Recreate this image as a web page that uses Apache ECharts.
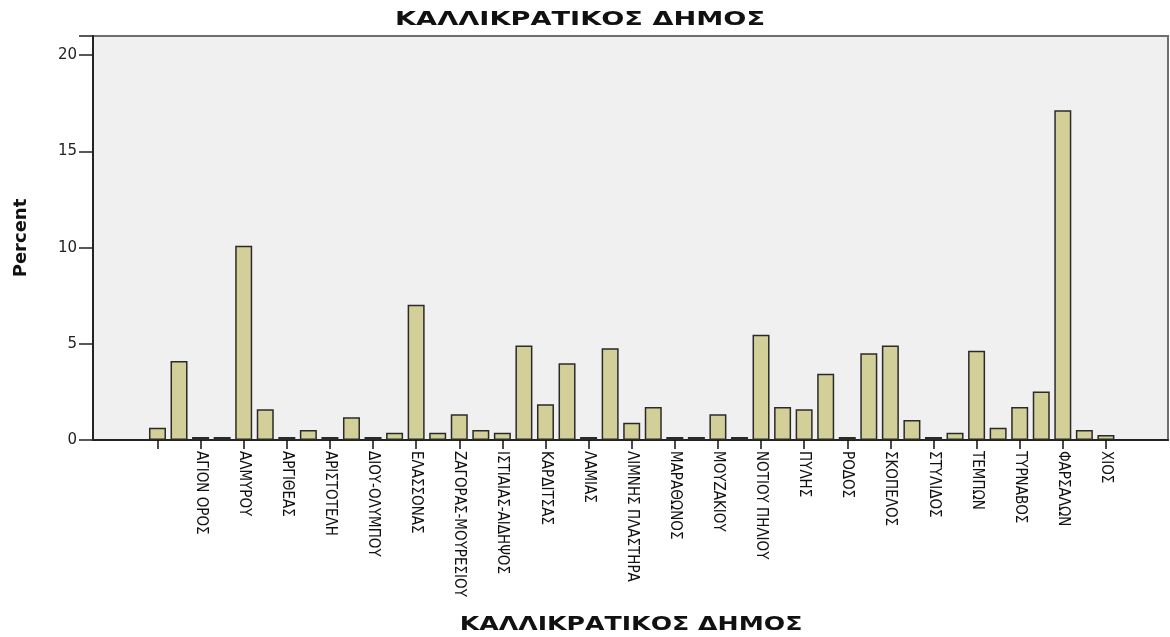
<!DOCTYPE html>
<html lang="el">
<head>
    <meta charset="UTF-8">
    <title>ΚΑΛΛΙΚΡΑΤΙΚΟΣ ΔΗΜΟΣ</title>
    <script src="https://cdn.jsdelivr.net/npm/echarts@6/dist/echarts.min.js"></script>
    <style>
        html, body { margin: 0; padding: 0; background: #fff; }
        #chart { width: 1170px; height: 637px; }
    </style>
</head>
<body>
    <div id="chart"></div>

    <script>
        // municipalities, SPSS shows only every other label
        const municipalities = [
            '', 'ΑΓΙΑΣ', 'ΑΓΙΟΝ ΟΡΟΣ', 'ΑΘΗΝΑΙΩΝ', 'ΑΛΜΥΡΟΥ', 'ΑΛΟΝΝΗΣΟΥ',
            'ΑΡΓΙΘΕΑΣ', 'ΑΡΓΟΥΣ ΟΡΕΣΤΙΚΟΥ', 'ΑΡΙΣΤΟΤΕΛΗ', 'ΒΟΛΟΥ', 'ΔΙΟΥ-ΟΛΥΜΠΟΥ',
            'ΔΟΜΟΚΟΥ', 'ΕΛΑΣΣΟΝΑΣ', 'ΕΡΕΤΡΙΑΣ', 'ΖΑΓΟΡΑΣ-ΜΟΥΡΕΣΙΟΥ', 'ΘΕΣΣΑΛΟΝΙΚΗΣ',
            'ΙΣΤΙΑΙΑΣ-ΑΙΔΗΨΟΣ', 'ΚΑΛΑΜΠΑΚΑΣ', 'ΚΑΡΔΙΤΣΑΣ', 'ΚΙΛΕΛΕΡ', 'ΛΑΜΙΑΣ',
            'ΛΑΡΙΣΑΙΩΝ', 'ΛΙΜΝΗΣ ΠΛΑΣΤΗΡΑ', 'ΜΑΚΡΑΚΩΜΗΣ', 'ΜΑΡΑΘΩΝΟΣ', 'ΜΕΤΕΩΡΩΝ',
            'ΜΟΥΖΑΚΙΟΥ', 'ΝΕΑΣ ΙΩΝΙΑΣ', 'ΝΟΤΙΟΥ ΠΗΛΙΟΥ', 'ΠΑΛΑΜΑ', 'ΠΥΛΗΣ',
            'ΡΗΓΑ ΦΕΡΑΙΟΥ', 'ΡΟΔΟΣ', 'ΣΚΙΑΘΟΥ', 'ΣΚΟΠΕΛΟΣ', 'ΣΟΦΑΔΩΝ',
            'ΣΤΥΛΙΔΟΣ', 'ΤΑΝΑΓΡΑΣ', 'ΤΕΜΠΩΝ', 'ΤΡΙΚΚΑΙΩΝ', 'ΤΥΡΝΑΒΟΣ',
            'ΦΑΡΚΑΔΟΝΑΣ', 'ΦΑΡΣΑΛΩΝ', 'ΧΑΛΚΙΔΕΩΝ', 'ΧΙΟΣ'
        ];
        const percents = [
            0.64, 4.11, 0.16, 0.16, 10.10, 1.60,
            0.16, 0.52, 0.16, 1.18, 0.16,
            0.38, 7.03, 0.38, 1.34, 0.52,
            0.38, 4.91, 1.86, 3.99, 0.16,
            4.77, 0.90, 1.72, 0.16, 0.16,
            1.34, 0.16, 5.47, 1.72, 1.60,
            3.45, 0.16, 4.51, 4.91, 1.04,
            0.16, 0.38, 4.64, 0.64, 1.72,
            2.52, 17.14, 0.52, 0.26
        ];
        const yTicks = [0, 5, 10, 15, 20];
        const chartTitle = 'ΚΑΛΛΙΚΡΑΤΙΚΟΣ ΔΗΜΟΣ';

        const chart = echarts.init(document.getElementById('chart'));
        const yMax = 21;

        chart.setOption({
            animation: false,
            textStyle: { fontFamily: 'DejaVu Sans' },
            graphic: [
                {
                    type: 'text', x: 580, y: 20, scaleX: 1.36,
                    style: {
                        text: chartTitle, fontSize: 20, fontWeight: 'bold',
                        fontFamily: 'DejaVu Sans', fill: '#111',
                        textAlign: 'center', textVerticalAlign: 'middle'
                    }
                },
                {
                    type: 'text', x: 631, y: 625, scaleX: 1.26,
                    style: {
                        text: chartTitle, fontSize: 20, fontWeight: 'bold',
                        fontFamily: 'DejaVu Sans', fill: '#111',
                        textAlign: 'center', textVerticalAlign: 'middle'
                    }
                }
            ],
            grid: [
                {
                    left: 93, right: 2, top: 36, bottom: 197,
                    show: true, backgroundColor: '#f0f0f0',
                    borderColor: '#6e6e6e', borderWidth: 2
                },
                { left: 146.7, width: 970, top: 36, bottom: 197 }
            ],
            xAxis: [
                {
                    gridIndex: 0, type: 'value', min: 0, max: 1,
                    axisLine: { show: true, lineStyle: { color: '#222', width: 2 } },
                    axisTick: { show: false }, axisLabel: { show: false },
                    splitLine: { show: false }
                },
                {
                    gridIndex: 1, type: 'category', data: municipalities,
                    axisLine: { show: false },
                    axisTick: {
                        show: true, interval: 1, alignWithLabel: true, length: 9,
                        lineStyle: { color: '#111', width: 1.5 }
                    },
                    axisLabel: {
                        interval: 1, rotate: -90, margin: 11,
                        fontSize: 15, fontFamily: 'DejaVu Sans Condensed', color: '#111'
                    }
                }
            ],
            yAxis: [
                {
                    gridIndex: 0, type: 'value', min: 0, max: yMax, interval: 5,
                    name: 'Percent', nameLocation: 'middle', nameGap: 63, nameRotate: 90,
                    nameTextStyle: { fontSize: 18, fontWeight: 'bold', color: '#111' },
                    axisLine: { show: true, lineStyle: { color: '#222', width: 2 } },
                    axisTick: { show: true, length: 14, lineStyle: { color: '#222', width: 1.5 } },
                    axisLabel: {
                        margin: 16, fontSize: 15, color: '#222',
                        formatter: v => (yTicks.includes(v) ? String(v) : '')
                    },
                    splitLine: { show: false }
                },
                { gridIndex: 1, type: 'value', min: 0, max: yMax, show: false }
            ],
            series: [
                {
                    type: 'bar', xAxisIndex: 1, yAxisIndex: 1,
                    data: percents, barWidth: 17,
                    itemStyle: { color: '#d3cf98', borderColor: '#2a2a2a', borderWidth: 1.5 }
                }
            ]
        });
    </script>
</body>
</html>
